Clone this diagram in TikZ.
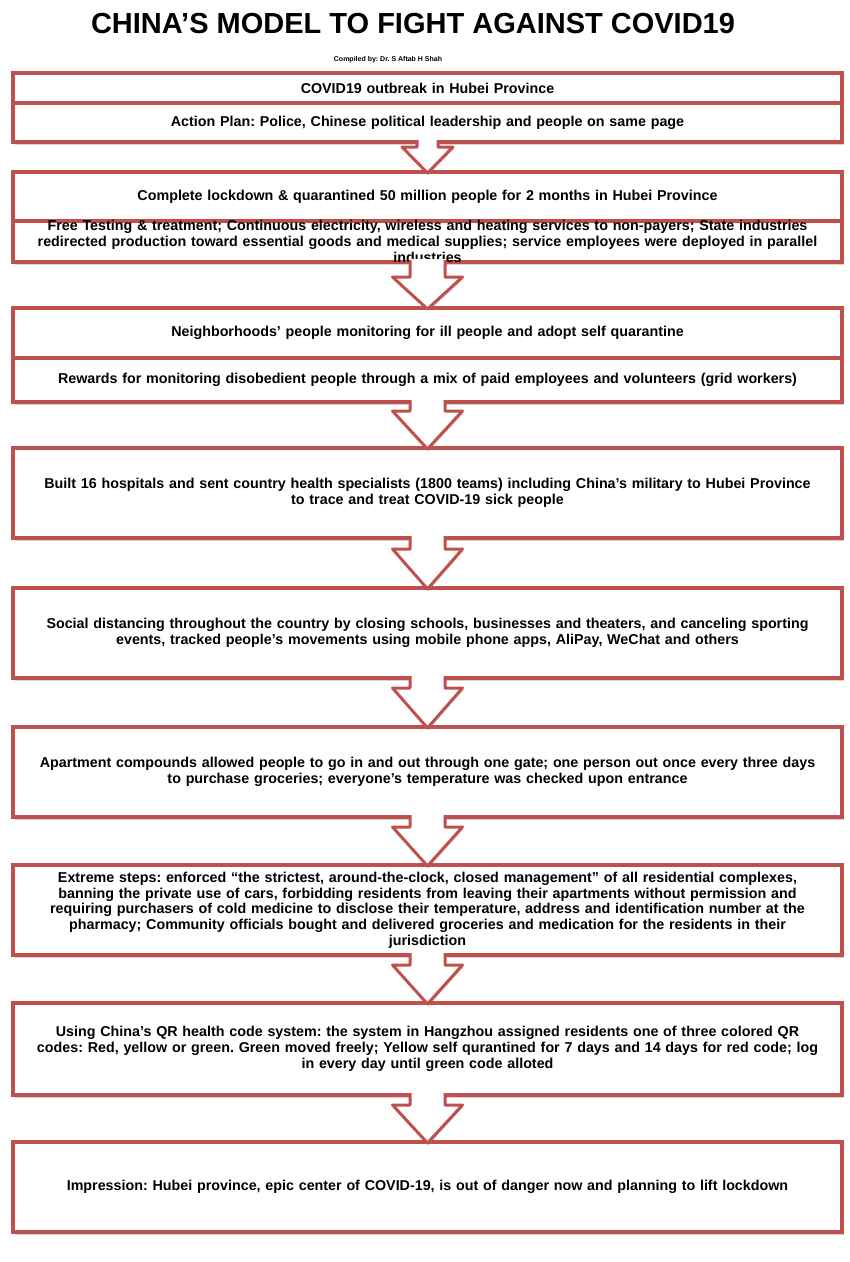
\documentclass[tikz,border=0pt]{standalone}
\usepackage{fontspec}
\setmainfont{Liberation Sans}
\usetikzlibrary{positioning,calc,shadows}
\definecolor{boxred}{RGB}{192,80,77}
\frenchspacing

\begin{document}
\begin{tikzpicture}[
x=1pt,y=-1pt,
node distance=48pt,
box/.style={draw=boxred,line width=4pt,fill=white,outer sep=0pt,minimum width=829pt,minimum height=90pt,text width=822pt,align=center,inner ysep=2pt,font=\fontsize{14.3}{15.7}\selectfont\bfseries,drop shadow={shadow xshift=1.5pt,shadow yshift=-2.5pt,opacity=.35}},
part/.style={box,minimum height=#1},
blk/.style={fill=white,drop shadow={shadow xshift=1pt,shadow yshift=-2pt,opacity=.3}},
blkline/.style={draw=boxred,line width=3pt,line join=round}
]
\useasboundingbox (0,0) rectangle (850,1262);

\node[anchor=base,font=\fontsize{29}{30}\selectfont\bfseries] (title) at (413,33) {CHINA’S MODEL TO FIGHT AGAINST COVID19};
\node[anchor=base,font=\fontsize{7}{8}\selectfont\bfseries] (author) at (388,61) {Compiled by: Dr. S Aftab H Shah};

\node[part=30pt] (b1a) at (427.5,88) {COVID19 outbreak in Hubei Province};
\node[part=39pt,below=0pt of b1a] (b1b) {Action Plan: Police, Chinese political leadership and people on same page};
\node[part=49pt,below=30pt of b1b] (b2a) {Complete lockdown \& quarantined 50 million people for 2 months in Hubei Province};
\node[part=41pt,inner ysep=-8pt,below=0pt of b2a] (b2b) {Free Testing \& treatment; Continuous electricity, wireless and heating services to non-payers; State industries\\redirected production toward essential goods and medical supplies; service employees were deployed in parallel\\industries};
\node[part=50pt,below=46pt of b2b] (b3a) {Neighborhoods’ people monitoring for ill people and adopt self quarantine};
\node[part=44pt,below=0pt of b3a] (b3b) {Rewards for monitoring disobedient people through a mix of paid employees and volunteers (grid workers)};
\node[box,below=46pt of b3b] (b4) {Built 16 hospitals and sent country health specialists (1800 teams) including China’s military to Hubei Province\\to trace and treat COVID-19 sick people};
\node[box,below=50pt of b4] (b5) {Social distancing throughout the country by closing schools, businesses and theaters, and canceling sporting\\events, tracked people’s movements using mobile phone apps, AliPay, WeChat and others};
\node[box,below=49pt of b5] (b6) {Apartment compounds allowed people to go in and out through one gate; one person out once every three days\\to purchase groceries; everyone’s temperature was checked upon entrance};
\node[box,below=48pt of b6] (b7) {Extreme steps: enforced “the strictest, around-the-clock, closed management” of all residential complexes,\\banning the private use of cars, forbidding residents from leaving their apartments without permission and\\requiring purchasers of cold medicine to disclose their temperature, address and identification number at the\\pharmacy; Community officials bought and delivered groceries and medication for the residents in their\\jurisdiction};
\node[part=92pt,below=48pt of b7] (b8) {Using China’s QR health code system: the system in Hangzhou assigned residents one of three colored QR\\codes: Red, yellow or green. Green moved freely; Yellow self qurantined for 7 days and 14 days for red code; log\\in every day until green code alloted};
\node[box,below=47pt of b8] (b9) {Impression: Hubei province, epic center of COVID-19, is out of danger now and planning to lift lockdown};

% block arrows between the stages
\foreach \a/\b/\s/\h/\l in {b1b/b2a/10.5/25.5/25,b2b/b3a/17.5/35/31,b3b/b4/17.5/35/37,b4/b5/17.5/35/39,b5/b6/17.5/35/39,b6/b7/17.5/35/38,b7/b8/17.5/35/38,b8/b9/17.5/35/37}{
  \fill[blk] let \p1=(\a.south),\p2=(\b.north) in
    (\x1-\s pt,\y1+3pt) -- (\x1-\s pt,\y2+\l pt) -- (\x1-\h pt,\y2+\l pt) -- (\x1,\y2-1pt)
    -- (\x1+\h pt,\y2+\l pt) -- (\x1+\s pt,\y2+\l pt) -- (\x1+\s pt,\y1+3pt) -- cycle;
  \draw[blkline] let \p1=(\a.south),\p2=(\b.north) in
    (\x1-\s pt,\y1+2pt) -- (\x1-\s pt,\y2+\l pt) -- (\x1-\h pt,\y2+\l pt) -- (\x1,\y2-1pt)
    -- (\x1+\h pt,\y2+\l pt) -- (\x1+\s pt,\y2+\l pt) -- (\x1+\s pt,\y1+2pt);
}
\end{tikzpicture}
\end{document}
